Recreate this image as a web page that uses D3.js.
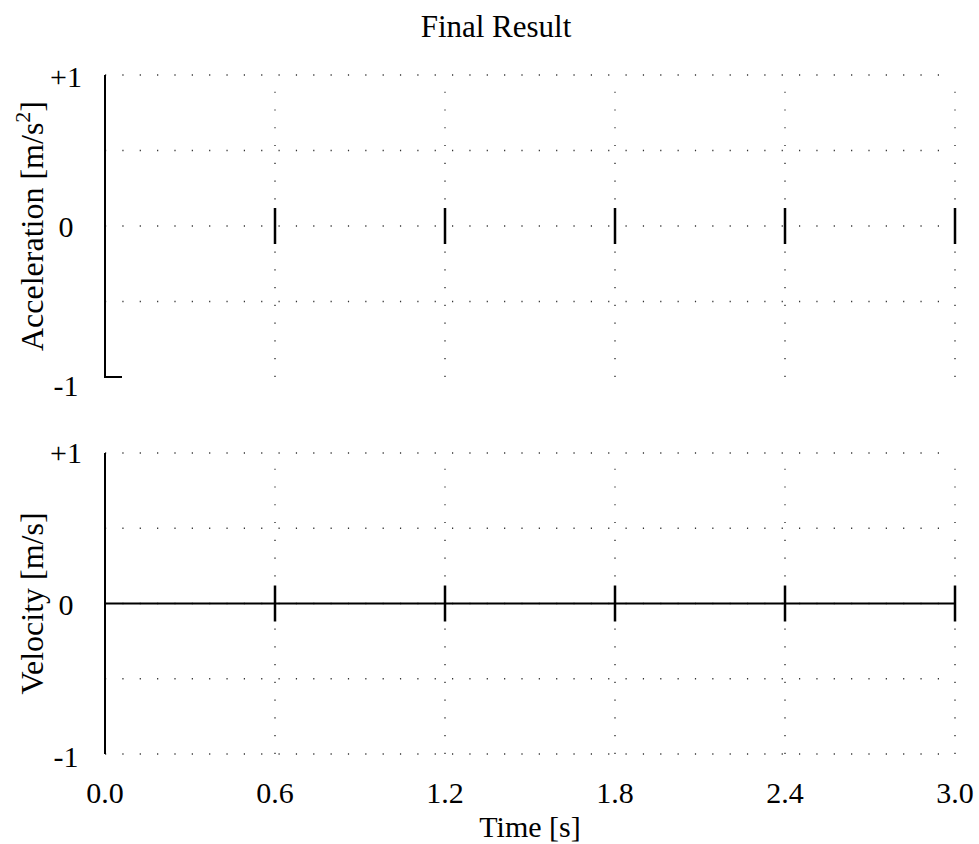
<!DOCTYPE html>
<html>
<head>
<meta charset="utf-8">
<script src="https://cdn.jsdelivr.net/npm/d3@7"></script>
<style>
  html, body { margin: 0; padding: 0; background: #fff; }
</style>
</head>
<body>
<svg id="chart" width="979" height="844" font-family="'Liberation Serif', 'Times New Roman', Times, serif"></svg>
<script>
// ---- data ----
const title = "Final Result";
const xTicks = [0.0, 0.6, 1.2, 1.8, 2.4, 3.0];
const xTickLabels = ["0.0", "0.6", "1.2", "1.8", "2.4", "3.0"];
const yTicks = [1, 0, -1];
const yTickLabels = ["+1", "0", "-1"];
const impulseTimes = [0.6, 1.2, 1.8, 2.4, 3.0];
const accTime = [0, 0, 0.06];
const accValue = [1, -1, -1];
const velTime = [0, 3.0];
const velValue = [0, 0];
const topGridY = [1, 0.5, 0, -0.5];
const bottomGridY = [1, 0.5, 0, -0.5, -1];
const gridX = [0.6, 1.2, 1.8, 2.4, 3.0];

const FONT = "'Liberation Serif', 'Times New Roman', Times, serif";
const svg = d3.select("#chart");
const x = d3.scaleLinear().domain([0, 3]).range([105, 955]);

const panels = [
  { label: "Acceleration [m/s", sup: "2", labelEnd: "]", range: [377, 75], time: accTime, value: accValue, gridY: topGridY, labelDy: [2, 1, 9] },
  { label: "Velocity [m/s]", sup: null, labelEnd: "", range: [754, 453], time: velTime, value: velValue, gridY: bottomGridY, labelDy: [0, 1, 3] }
];

panels.forEach(p => {
  const y = d3.scaleLinear().domain([-1, 1]).range(p.range);
  const g = svg.append("g");

  g.selectAll("line.hg").data(p.gridY).enter().append("line")
    .attr("x1", x(0)).attr("x2", x(3))
    .attr("y1", d => y(d)).attr("y2", d => y(d))
    .attr("stroke", "#333").attr("stroke-width", 1.4)
    .attr("stroke-dasharray", "1.2,16.15");

  g.selectAll("line.vg").data(gridX).enter().append("line")
    .attr("x1", d => x(d)).attr("x2", d => x(d))
    .attr("y1", y(-1)).attr("y2", y(1))
    .attr("stroke", "#333").attr("stroke-width", 1.4)
    .attr("stroke-dasharray", "1.2,16.56");

  g.append("line")
    .attr("x1", x(0)).attr("x2", x(0))
    .attr("y1", y(-1)).attr("y2", y(1))
    .attr("stroke", "#000").attr("stroke-width", 2);

  const pts = p.time.map((t, i) => [t, p.value[i]]);
  g.append("path")
    .attr("d", d3.line().x(d => x(d[0])).y(d => y(d[1]))(pts))
    .attr("fill", "none").attr("stroke", "#000").attr("stroke-width", 2);

  g.selectAll("line.imp").data(impulseTimes).enter().append("line")
    .attr("x1", d => x(d)).attr("x2", d => x(d))
    .attr("y1", y(0) - 18).attr("y2", y(0) + 18)
    .attr("stroke", "#000").attr("stroke-width", 2.5);

  g.selectAll("text.yt").data(yTicks).enter().append("text")
    .attr("font-family", FONT)
    .attr("x", 66)
    .attr("y", (d, i) => y(d) + p.labelDy[i] + 10)
    .attr("text-anchor", "middle")
    .attr("font-size", 30)
    .text((d, i) => yTickLabels[i]);

  const cy = (p.range[0] + p.range[1]) / 2;
  const t = g.append("text")
    .attr("font-family", FONT)
    .attr("transform", `translate(43,${cy}) rotate(-90)`)
    .attr("text-anchor", "middle")
    .attr("font-size", 32);
  t.append("tspan").text(p.label);
  if (p.sup) {
    t.append("tspan").attr("font-size", 22).attr("dy", -13).text(p.sup);
    t.append("tspan").attr("dy", 13).text(p.labelEnd);
  }
});

svg.selectAll("text.xt").data(xTicks).enter().append("text")
  .attr("font-family", FONT)
  .attr("x", d => x(d)).attr("y", 803)
  .attr("text-anchor", "middle").attr("font-size", 30)
  .text((d, i) => xTickLabels[i]);

svg.append("text")
  .attr("font-family", FONT)
  .attr("x", x(1.5)).attr("y", 837)
  .attr("text-anchor", "middle").attr("font-size", 30)
  .text("Time [s]");

svg.append("text")
  .attr("font-family", FONT)
  .attr("x", 496).attr("y", 37)
  .attr("text-anchor", "middle").attr("font-size", 31)
  .text(title);
</script>
</body>
</html>
